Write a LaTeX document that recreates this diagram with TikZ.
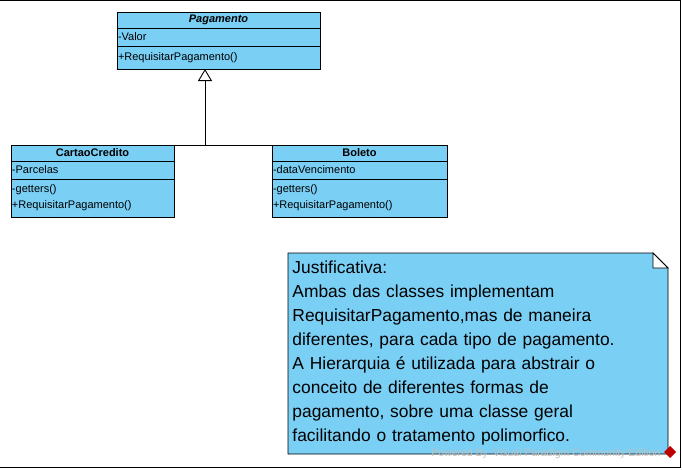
\documentclass[tikz,border=0pt]{standalone}
\usepackage{fontspec}
\setmainfont{Liberation Sans}
\usetikzlibrary{arrows.meta,positioning}
\definecolor{vpblue}{RGB}{122,207,245}

\begin{document}
\begin{tikzpicture}[x=1pt, y=-1pt, line width=0.9pt, cname/.style={draw, fill=vpblue, anchor=north west, minimum height=16pt, inner sep=0pt, outer sep=0pt, font=\fontsize{11}{13}\selectfont\bfseries}, compart/.style={draw, fill=vpblue, below=0pt of #1, inner xsep=1pt, inner ysep=0pt, outer sep=0pt, align=left, font=\fontsize{11}{16}\selectfont}, notetext/.style={anchor=north west, inner sep=0pt, text width=374pt, align=left, font=\fontsize{17.4}{24}\selectfont}]
\useasboundingbox (0,0) rectangle (682,469);
\draw (0,0.5) -- (680.5,0.5) -- (680.5,467.5) -- (0,467.5);
\node[cname, minimum width=203pt] (pag) at (117,12) {\itshape Pagamento};
\node[compart=pag, text width=201pt, minimum height=18pt] (pagattr) {-Valor};
\node[compart=pagattr, text width=201pt, minimum height=23pt] (pagops) {+RequisitarPagamento()};
\node[cname, minimum width=163pt] (cartao) at (11,145) {CartaoCredito};
\node[compart=cartao, text width=161pt, minimum height=18pt] (cartaoattr) {-Parcelas};
\node[compart=cartaoattr, text width=161pt, minimum height=38pt] (cartaoops) {-getters()\\+RequisitarPagamento()};
\node[cname, minimum width=175pt] (boleto) at (272,145) {Boleto};
\node[compart=boleto, text width=173pt, minimum height=18pt] (boletoattr) {-dataVencimento};
\node[compart=boletoattr, text width=173pt, minimum height=38pt] (boletoops) {-getters()\\+RequisitarPagamento()};
\coordinate (joint) at (205,145);
\draw (cartao.north east) -- (boleto.north west);
\draw[-{Triangle[open, length=12pt, width=14pt]}] (joint) -- (joint |- pagops.south);
\node[minimum width=380pt, minimum height=201pt, inner sep=0pt, outer sep=0pt, anchor=north west] (notebox) at (288,253) {};
\draw[fill=vpblue] (notebox.north west) -- ([xshift=-15pt]notebox.north east) -- ([yshift=-15pt]notebox.north east) -- (notebox.south east) -- (notebox.south west) -- cycle;
\draw[fill=white] ([xshift=-15pt]notebox.north east) -- ([yshift=-15pt]notebox.north east) -- ([xshift=-15pt, yshift=-15pt]notebox.north east) -- cycle;
\node[notetext] (note) at (292,260.5) {Justificativa:\\Ambas das classes implementam\\RequisitarPagamento,mas de maneira\\diferentes, para cada tipo de pagamento.\\A Hierarquia é utilizada para abstrair o\\conceito de diferentes formas de\\pagamento, sobre uma classe geral\\facilitando o tratamento polimorfico.};
\node[anchor=base east, inner sep=0pt, text=gray!50, font=\fontsize{10.5}{12}\selectfont] (mark) at (661,456) {Powered By\,\,\,Visual Paradigm Community Edition};
\fill[red!75!black] (670,446) -- (676,452) -- (670,458) -- (664,452) -- cycle;
\end{tikzpicture}
\end{document}
